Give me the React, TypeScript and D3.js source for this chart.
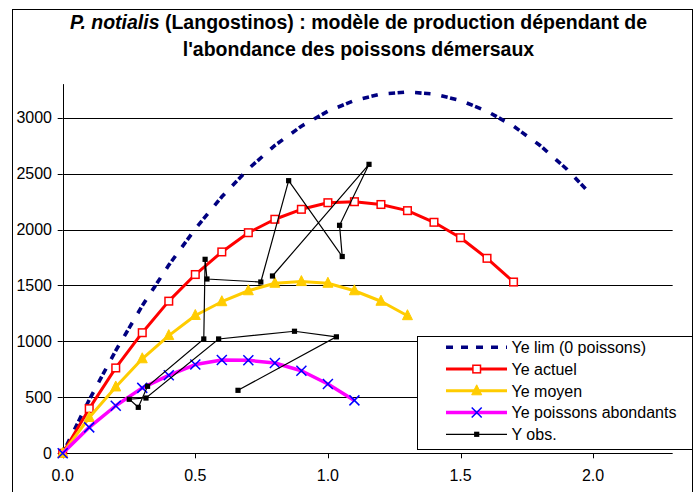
import React from 'react';
import * as d3 from 'd3';

const effort = [0, 0.1, 0.2, 0.3, 0.4, 0.5, 0.6, 0.7, 0.8, 0.9, 1.0, 1.1, 1.2, 1.3, 1.4, 1.5, 1.6, 1.7, 1.8, 1.9, 2.0];
const yeLim = [0, 478, 918, 1319, 1682, 2006, 2293, 2542, 2752, 2924, 3058, 3154, 3211, 3230, 3211, 3154, 3058, 2924, 2752, 2542, 2293];
const yeActuel = [0, 399, 763, 1078, 1360, 1598, 1800, 1972, 2092, 2181, 2240, 2249, 2224, 2169, 2065, 1927, 1743, 1531];
const yeMoyen = [0, 320, 593, 845, 1052, 1232, 1355, 1453, 1520, 1535, 1520, 1453, 1359, 1230];
const yeAbondants = [0, 232, 425, 585, 697, 793, 834, 831, 807, 738, 619, 473];
const obsEffort = [0.661, 1.032, 0.874, 0.588, 0.314, 0.251, 0.285, 0.320, 0.532, 0.537, 0.544, 0.747, 0.852, 1.054, 1.044, 1.155, 0.791];
const obsCatch = [563, 1041, 1091, 1022, 494, 483, 411, 599, 1022, 1734, 1558, 1531, 2437, 1759, 2038, 2583, 1585];
const xTicks = [0, 0.5, 1.0, 1.5, 2.0];
const yTicks = [0, 500, 1000, 1500, 2000, 2500, 3000];
const legendLabels = ['Ye lim (0 poissons)', 'Ye actuel', 'Ye moyen', 'Ye poissons abondants', 'Y obs.'];

const FONT = '"Liberation Sans", Arial, Helvetica, sans-serif';

type Pt = [number, number];
const zipPts = (xs: number[], ys: number[]): Pt[] => ys.map((v, i) => [xs[i], v]);

export default function App() {
  const W = 696, H = 492;
  const x = d3.scaleLinear().domain([0, 2.3]).range([62.7, 62.7 + 2.3 * 265.2]);
  const y = d3.scaleLinear().domain([0, 3300]).range([453.3, 453.3 - 3300 * 0.11187]);
  const line = d3.line<Pt>().x(d => x(d[0])).y(d => y(d[1]));

  const limPts = zipPts(effort, yeLim);
  const actPts = zipPts(effort, yeActuel);
  const moyPts = zipPts(effort, yeMoyen);
  const abPts = zipPts(effort, yeAbondants);
  const obsPts = zipPts(obsEffort, obsCatch);

  const [x0, x1] = x.range();
  const [yb, yt] = y.range();

  const tri = (cx: number, cy: number, s: number) =>
    `M${cx},${cy - s * 0.6} L${cx + s / 2},${cy + s * 0.4} L${cx - s / 2},${cy + s * 0.4} Z`;
  const cross = (cx: number, cy: number, s: number) =>
    `M${cx - s},${cy - s} L${cx + s},${cy + s} M${cx - s},${cy + s} L${cx + s},${cy - s}`;

  const legX0 = 417.5, legY0 = 336.5, legW = 275, legH = 113;
  const rowY = (i: number) => 347.3 + i * 21.75;
  const sx0 = 446, sx1 = 507, smx = 476.7, tx = 511.5;

  return (
    <svg width={W} height={H} style={{ position: 'absolute', left: 0, top: 0, background: '#fff' }}
      fontFamily={FONT}>
      <rect x={0} y={0} width={W} height={H} fill="#fff" />
      <rect x={12.5} y={9.5} width={680} height={500} fill="none" stroke="#000" strokeWidth={1} />

      <text x={358.5} y={28.5} textAnchor="middle" fontSize={19.5} fontWeight="bold" fill="#000">
        <tspan fontStyle="italic">P. notialis</tspan> (Langostinos) : modèle de production dépendant de
      </text>
      <text x={358.5} y={55.5} textAnchor="middle" fontSize={19.5} fontWeight="bold" fill="#000">
        l'abondance des poissons démersaux
      </text>

      {yTicks.filter(t => t > 0).map(t => (
        <line key={'g' + t} x1={x0} x2={x1} y1={Math.round(y(t)) + 0.5} y2={Math.round(y(t)) + 0.5}
          stroke="#000" strokeWidth={1} />
      ))}
      <line x1={Math.round(x0) + 0.5} x2={Math.round(x0) + 0.5} y1={yt} y2={yb} stroke="#000" strokeWidth={1} />
      <line x1={x0} x2={x1} y1={Math.round(yb) + 0.5} y2={Math.round(yb) + 0.5} stroke="#000" strokeWidth={1} />
      {yTicks.map(t => (
        <g key={'y' + t}>
          <line x1={x0 - 5} x2={x0} y1={Math.round(y(t)) + 0.5} y2={Math.round(y(t)) + 0.5} stroke="#000" />
          <text x={52} y={y(t) + 5.7} textAnchor="end" fontSize={16} fill="#000">{t}</text>
        </g>
      ))}
      {xTicks.map(t => (
        <g key={'x' + t}>
          <line x1={Math.round(x(t)) + 0.5} x2={Math.round(x(t)) + 0.5} y1={yb} y2={yb + 5} stroke="#000" />
          <text x={x(t)} y={481} textAnchor="middle" fontSize={16} fill="#000">{t.toFixed(1)}</text>
        </g>
      ))}

      <path d={line(limPts) || ''} fill="none" stroke="#000080" strokeWidth={3.6}
        strokeDasharray="6.5 2.5 6.5 11" />

      <path d={line(actPts) || ''} fill="none" stroke="#FF0000" strokeWidth={3} strokeLinejoin="round" />
      {actPts.map((p, i) => (
        <rect key={'a' + i} x={x(p[0]) - 3.8} y={y(p[1]) - 3.8} width={7.6} height={7.6}
          fill="#fff" stroke="#FF0000" strokeWidth={1.5} />
      ))}

      <path d={line(moyPts) || ''} fill="none" stroke="#FFCC00" strokeWidth={3} strokeLinejoin="round" />
      {moyPts.map((p, i) => (
        <path key={'m' + i} d={tri(x(p[0]), y(p[1]), 10)} fill="#FFCC00" stroke="#FFCC00" strokeWidth={1} />
      ))}

      <path d={line(abPts) || ''} fill="none" stroke="#FF00FF" strokeWidth={3.5} strokeLinejoin="round" />
      {abPts.map((p, i) => (
        <path key={'b' + i} d={cross(x(p[0]), y(p[1]), 5)} fill="none" stroke="#0000FF" strokeWidth={1.5} />
      ))}

      <path d={line(obsPts) || ''} fill="none" stroke="#000" strokeWidth={1.2} />
      {obsPts.map((p, i) => (
        <rect key={'o' + i} x={x(p[0]) - 2.6} y={y(p[1]) - 2.6} width={5.2} height={5.2} fill="#000" />
      ))}

      <rect x={legX0} y={legY0} width={legW} height={legH} fill="#fff" stroke="#000" strokeWidth={1} />
      {legendLabels.map((lab, i) => {
        const cy = rowY(i);
        return (
          <g key={'l' + i}>
            {i === 0 && <line x1={sx0} x2={sx1} y1={cy} y2={cy} stroke="#000080" strokeWidth={3.4} strokeDasharray="7 8" />}
            {i === 1 && <>
              <line x1={sx0} x2={sx1} y1={cy} y2={cy} stroke="#FF0000" strokeWidth={3} />
              <rect x={smx - 3.8} y={cy - 3.8} width={7.6} height={7.6} fill="#fff" stroke="#FF0000" strokeWidth={1.5} />
            </>}
            {i === 2 && <>
              <line x1={sx0} x2={sx1} y1={cy} y2={cy} stroke="#FFCC00" strokeWidth={3} />
              <path d={tri(smx, cy, 10)} fill="#FFCC00" stroke="#FFCC00" strokeWidth={1} />
            </>}
            {i === 3 && <>
              <line x1={sx0} x2={sx1} y1={cy} y2={cy} stroke="#FF00FF" strokeWidth={3.5} />
              <path d={cross(smx, cy, 5)} fill="none" stroke="#0000FF" strokeWidth={1.5} />
            </>}
            {i === 4 && <>
              <line x1={sx0} x2={sx1} y1={cy} y2={cy} stroke="#000" strokeWidth={1.2} />
              <rect x={smx - 2.6} y={cy - 2.6} width={5.2} height={5.2} fill="#000" />
            </>}
            <text x={tx} y={cy + 5.7} fontSize={16} fill="#000">{lab}</text>
          </g>
        );
      })}
    </svg>
  );
}
